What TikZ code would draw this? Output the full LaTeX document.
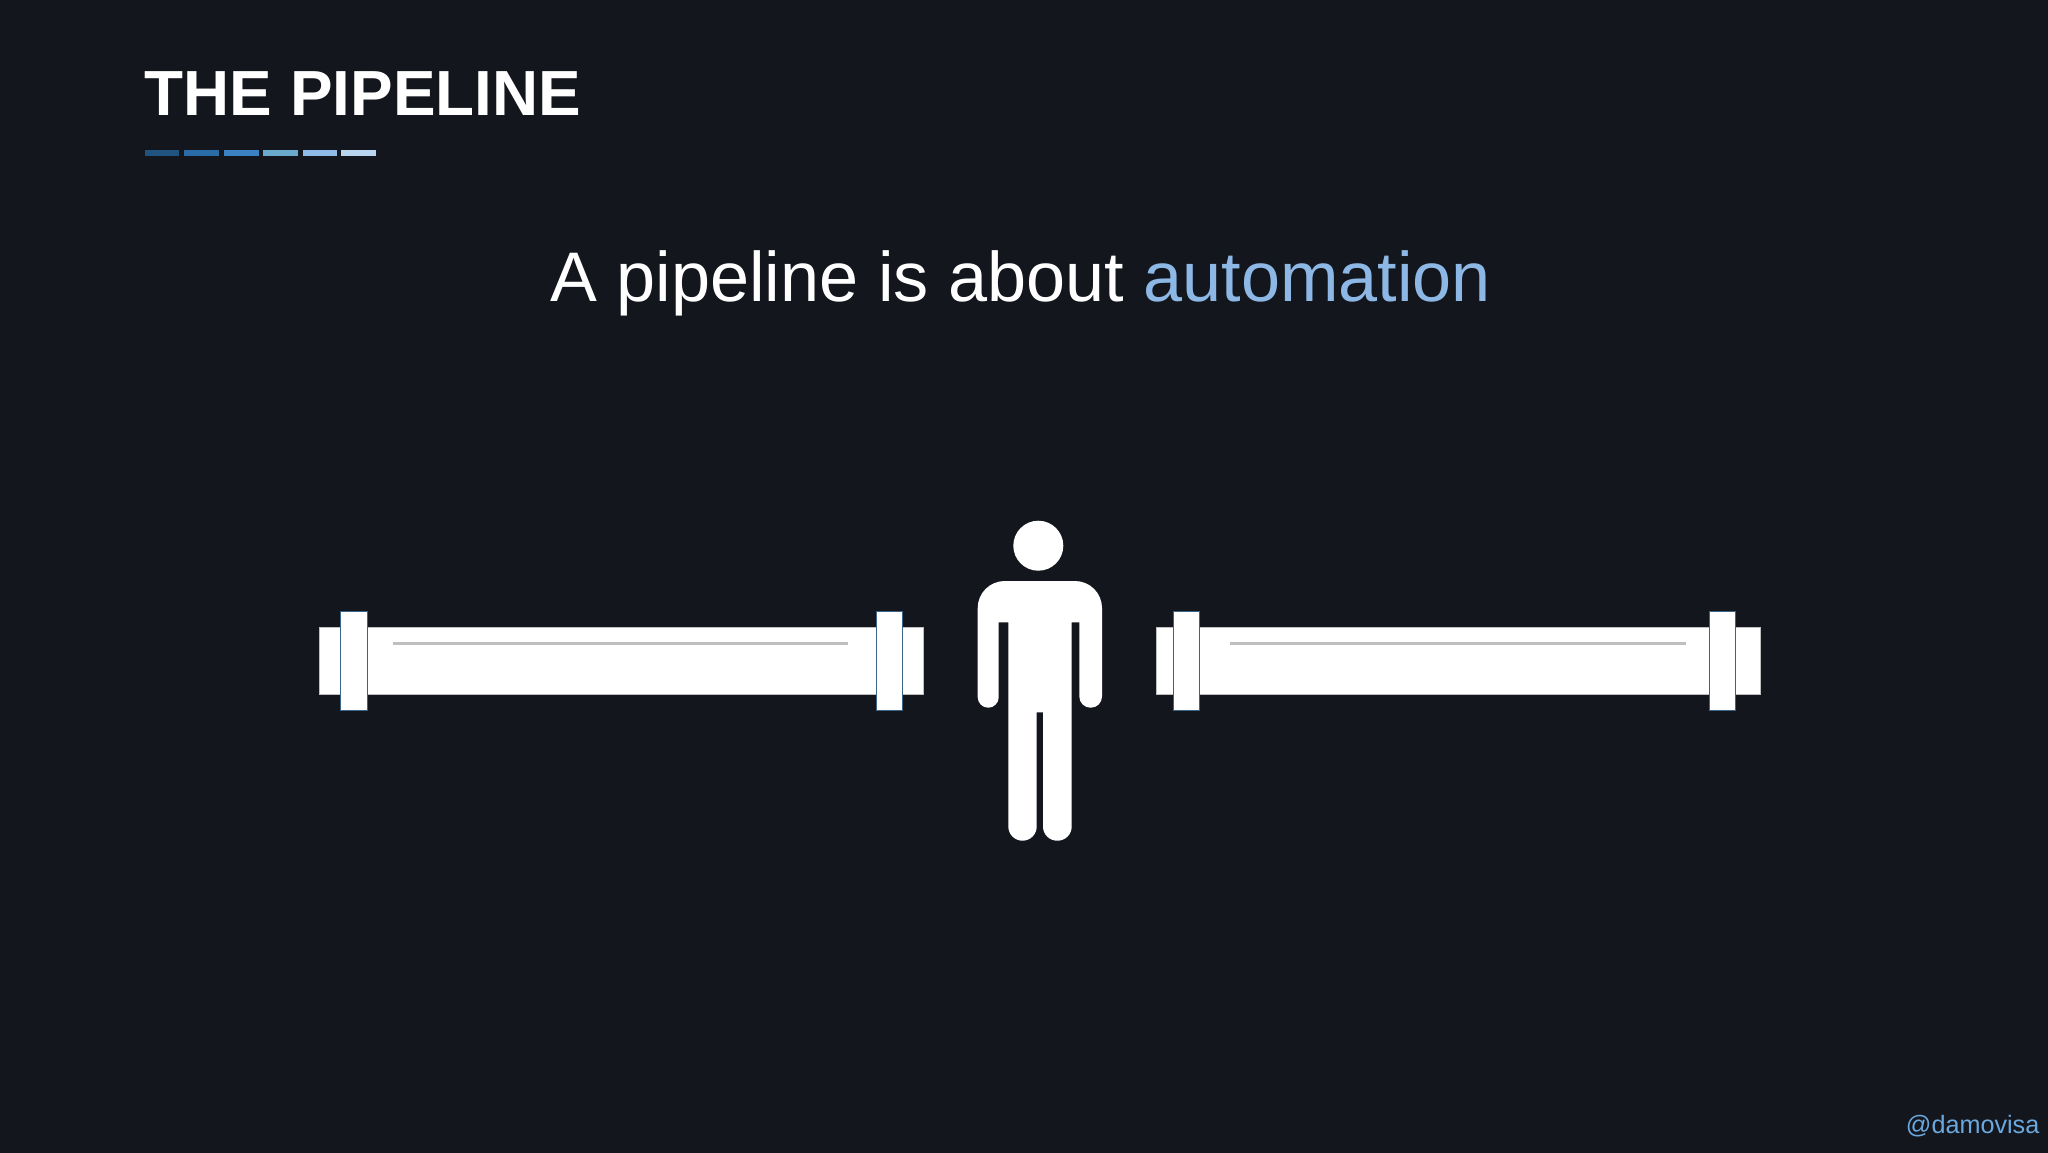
\documentclass[tikz,border=0pt]{standalone}
\usepackage{fontspec}
\setmainfont{Liberation Sans}
\definecolor{slidebg}{HTML}{13161D}
\definecolor{accent}{HTML}{8DB8E6}
\definecolor{handle}{HTML}{6AA8DE}
\definecolor{rim}{HTML}{3A6488}
\definecolor{shine}{HTML}{BEBFC0}
\tikzset{
pipebody/.style={
	  fill=white, draw=white!75!black, line width=0.3pt},
flange/.style={
	  fill=white, draw=rim, line width=0.5pt},
shineline/.style={
	  draw=shine, line width=1.5pt},
txt/.style={
	  anchor=base west, inner sep=0pt}
}

\begin{document}
\begin{tikzpicture}[x=0.5pt, y=-0.5pt]
	\useasboundingbox (0,0) rectangle (2048,1152);
	\fill[slidebg] (-10,-10) rectangle (2058,1162);
	\node[txt, text=white, font=\bfseries\fontsize{31.9}{38}\selectfont] (title) at (144.5,115) {THE PIPELINE};
	\foreach \xa/\xb/\col in {145/179/205380, 184/219/2A6CA8, 224/259/3A82C4, 263/298/6AAACC, 303/337/8FBBE8, 341/376/B8D4EE}{
		\definecolor{barcol}{HTML}{\col}
		\fill[barcol] (\xa,149.5) rectangle (\xb,156);
	}
	\node[txt, text=white, font=\fontsize{35.1}{44}\selectfont] (headline) at (550,301) {A pipeline is about \textcolor{accent}{automation}};
	\foreach \px/\fa/\fb in {319.3/21.4/556.7, 1156.7/16.6/552.6}{
		\begin{scope}[shift={(\px,0)}]
			\draw[pipebody] (0,627.3) rectangle (604,694.3);
			\draw[shineline] (73.4,643.3) -- (529,643.3);
			\draw[flange] (\fa,611) rectangle ++(26.4,99.3);
			\draw[flange] (\fb,611) rectangle ++(26.4,99.3);
		\end{scope}
	}
	\fill[white] (1038.3,545.7) circle[radius=12.5pt];
	\fill[white] (1008.3,622.3) -- (998.7,622.3)
		[rounded corners=5.25pt] -- (998.7,707.7) -- (977.7,707.7)
		[rounded corners=13.5pt] -- (977.7,581) -- (1102,581)
		[rounded corners=5.6pt] -- (1102,707.7) -- (1079.3,707.7)
		[sharp corners] -- (1079.3,622.3) -- (1071.7,622.3)
		[rounded corners=7.1pt] -- (1071.7,840.7) -- (1043,840.7)
		[sharp corners] -- (1043,712.3) -- (1036.7,712.3)
		[rounded corners=7.1pt] -- (1036.7,840.7) -- (1008.3,840.7)
		[sharp corners] -- cycle;
	\node[txt, text=handle, font=\fontsize{12.6}{16}\selectfont] (handlename) at (1905.5,1133) {@damovisa};
\end{tikzpicture}
\end{document}
